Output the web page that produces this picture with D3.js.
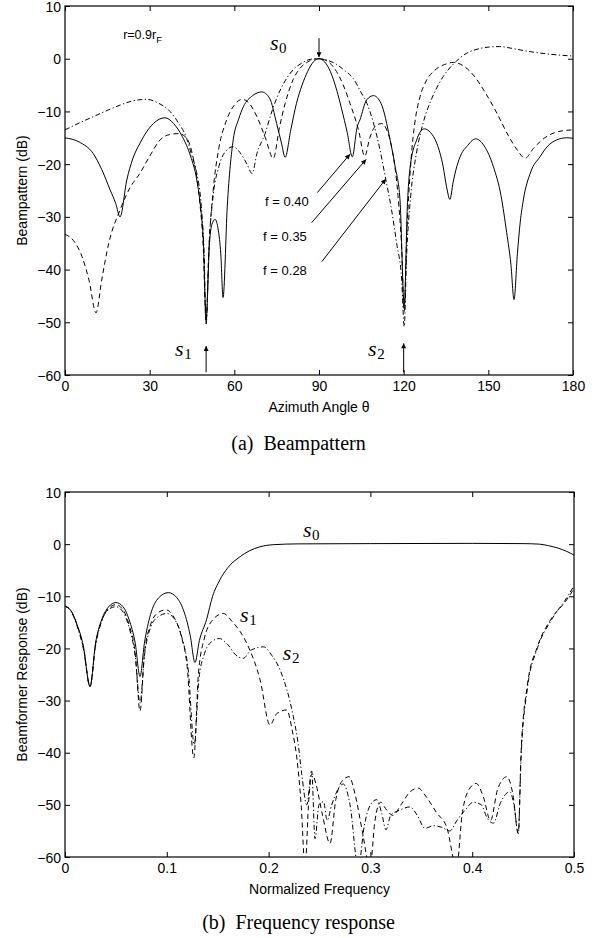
<!DOCTYPE html>
<html><head><meta charset="utf-8">
<script src="https://cdn.jsdelivr.net/npm/d3@7"></script>
<style>body{margin:0;background:#fff}svg{display:block}</style>
</head><body>
<script>
// ---------- DATA ----------
const thetaTicks = [0, 30, 60, 90, 120, 150, 180];
const freqTicks = [0, 0.1, 0.2, 0.3, 0.4, 0.5];
const dbTicks = [10, 0, -10, -20, -30, -40, -50, -60];

// (a) Beampattern [theta (deg), dB]
const beamF040 = [[0,-15],[5,-15.8],[10,-18],[13,-21],[16,-24.9],[18,-27.5],[19.5,-30],[21.9,-23],[24,-19],[26.6,-16],[29,-13.8],[31.3,-12.3],[35.4,-11.2],[38.5,-12.3],[41.6,-14.8],[44.5,-18.5],[46.7,-23],[48.2,-29],[49,-34.4],[50,-49.5],[51.2,-35],[52,-31.5],[53.2,-30.5],[54.3,-32.5],[55.2,-37],[56,-45.3],[57.5,-28],[59.6,-15.4],[61.5,-11.5],[63.2,-9.1],[66.5,-7],[69.7,-6.3],[72.5,-7.5],[75,-12.3],[76.7,-16],[78,-18.7],[80,-13.5],[82,-8.5],[84,-5],[86,-2.4],[88,-0.6],[90,0],[92,-0.6],[94,-2.4],[96.3,-6],[98,-9.5],[100,-14],[101.8,-18.6],[103.5,-13],[104.5,-11.6],[106.9,-7.8],[109.3,-7],[112,-8.5],[115.2,-15.4],[117,-20.5],[118.7,-26.8],[120.2,-47],[121.3,-28],[122.3,-20.5],[124.6,-15.4],[127.3,-13.3],[129.5,-14],[131.7,-16],[134,-20.5],[135.2,-24.3],[136.4,-26.7],[137.5,-23.5],[138.8,-20.5],[140.5,-18],[142.3,-16.7],[145.5,-15.2],[148.5,-16.5],[151.8,-20.5],[154.5,-26],[156.5,-33],[158,-39],[159.1,-45.7],[160.3,-37],[161.3,-31],[162.4,-26.8],[165,-21.5],[168.3,-18.6],[171,-16.6],[174.2,-15.4],[177.8,-15],[180,-15.1]];
const beamF035 = [[0,-33.3],[3,-34.5],[6,-37.5],[8.5,-42],[11,-48.2],[13,-42],[15.5,-35],[19.5,-28.7],[23,-24.5],[26.6,-21.7],[30,-18.5],[33.7,-15.4],[37,-14.4],[40.2,-14.2],[43,-15],[45.5,-19],[47.5,-26],[49,-36],[50,-50],[51,-36],[52.5,-25],[54.5,-17],[57,-12],[60,-8.8],[62.8,-7.7],[65,-8.3],[68,-11],[71,-15],[73.8,-18.9],[76,-13],[78,-8.5],[80.8,-4],[83,-2],[86,-0.6],[88,-0.1],[90,0],[92,-0.2],[95,-1.5],[98.6,-5],[101,-8.5],[104,-13.5],[106.2,-18.5],[108,-15],[110,-12.8],[112.2,-12.3],[114,-13.5],[116,-17.5],[118,-26],[119.3,-36],[120.2,-48],[121,-35],[122.5,-20],[124,-12],[125.8,-7.2],[128,-4.2],[131,-2.2],[134.5,-1.1],[137.6,-0.7],[141,-1.3],[145,-3.3],[149,-6.5],[153,-10.3],[157,-14.5],[160.5,-17.5],[163,-18.9],[166,-17],[170,-15],[175,-13.8],[180,-13.5]];
const beamF028 = [[0,-13.5],[5,-12.2],[10,-11],[15,-9.8],[19.5,-8.8],[24,-8],[28.9,-7.7],[33,-8.4],[37.2,-10],[40,-12],[43.1,-15.1],[45,-18.5],[46.7,-21.7],[48.3,-28],[49.3,-37],[50,-50.5],[51,-36],[52.5,-26],[54.5,-20.5],[57,-17.5],[59.6,-16.7],[62,-17.8],[64.5,-20],[66.3,-21.8],[68,-18],[70.9,-14.2],[73,-10.5],[75,-7.5],[78,-4.2],[81,-2],[84,-0.8],[87,-0.1],[90,0],[93,-0.3],[96,-1],[99,-2.2],[102.2,-3.8],[105,-6.5],[107,-8.5],[109.3,-12.2],[111.5,-17],[113.7,-23],[115.5,-28],[117.5,-35],[119.3,-42],[120.2,-50.8],[121,-38],[122.5,-26],[124.5,-18],[127,-12],[130,-7.5],[134,-3.4],[138,-0.8],[142.2,1],[146,1.8],[150,2.2],[154,2.3],[158,2],[163,1.5],[169.4,1],[175,0.7],[180,0.5]];

// (b) Frequency response [normalized frequency, dB]
const respS0 = [[0,-11.9],[0.006,-12.8],[0.012,-15.5],[0.018,-19.5],[0.0246,-27.3],[0.03,-19],[0.036,-14.5],[0.043,-12],[0.05,-11.2],[0.057,-12],[0.063,-14.5],[0.069,-19],[0.0737,-25.4],[0.078,-19],[0.084,-13.5],[0.092,-10.3],[0.1015,-9.3],[0.11,-10.3],[0.117,-13],[0.123,-17.5],[0.1277,-22.7],[0.132,-18.5],[0.139,-14.5],[0.145,-10],[0.152,-6.9],[0.16,-4.5],[0.172,-2.4],[0.181,-1.3],[0.1916,-0.5],[0.205,-0.1],[0.229,0.05],[0.3,0.1],[0.4,0.15],[0.45,0.1],[0.466,0],[0.475,-0.3],[0.485,-0.8],[0.493,-1.4],[0.5,-2.1]];
const respS1 = [[0,-11.9],[0.006,-12.8],[0.012,-15.6],[0.018,-19.7],[0.0246,-27.3],[0.03,-19.2],[0.036,-14.7],[0.043,-12.3],[0.05,-11.6],[0.057,-12.6],[0.063,-15.5],[0.069,-21],[0.0737,-32],[0.078,-21],[0.084,-15.5],[0.091,-13.2],[0.099,-12.6],[0.107,-14],[0.114,-17.5],[0.12,-23.5],[0.1265,-41],[0.131,-25],[0.137,-18],[0.144,-14.8],[0.1555,-13.3],[0.164,-14.8],[0.1785,-19],[0.1916,-26],[0.2014,-34.7],[0.208,-32.5],[0.2177,-31.8],[0.2235,-36],[0.2276,-40.8],[0.232,-50],[0.2358,-62],[0.2395,-49],[0.2426,-44],[0.2465,-46],[0.253,-52],[0.2603,-57.4],[0.266,-49],[0.272,-45.5],[0.279,-44.6],[0.285,-48],[0.292,-55],[0.2996,-62],[0.3045,-53],[0.31,-49.5],[0.316,-51],[0.322,-52],[0.33,-50],[0.339,-47.5],[0.347,-46.8],[0.355,-48.5],[0.365,-51.5],[0.375,-54.3],[0.3847,-62],[0.39,-52],[0.397,-47],[0.404,-45.9],[0.411,-48.5],[0.418,-53],[0.425,-47],[0.434,-44.6],[0.44,-48],[0.4453,-55.5],[0.448,-40],[0.454,-27.3],[0.464,-19.7],[0.477,-14.5],[0.4928,-10.7],[0.5,-8.5]];
const respS2 = [[0,-11.9],[0.006,-12.9],[0.012,-15.8],[0.018,-20],[0.0246,-27.3],[0.03,-19.5],[0.036,-14.8],[0.043,-12.5],[0.05,-12],[0.057,-13],[0.063,-16],[0.069,-21.5],[0.0737,-30.5],[0.078,-21.5],[0.084,-16],[0.091,-14],[0.1,-13.3],[0.108,-14.5],[0.115,-18],[0.121,-24],[0.127,-38.5],[0.1315,-26],[0.137,-21],[0.1435,-18.8],[0.1516,-18.1],[0.16,-19.3],[0.168,-21.3],[0.175,-21.9],[0.183,-20.3],[0.195,-19.7],[0.203,-21.3],[0.2112,-24.1],[0.2243,-33.1],[0.229,-38.2],[0.2325,-44],[0.2375,-50],[0.2423,-43.5],[0.2456,-56.5],[0.2495,-50],[0.254,-49.4],[0.2575,-53],[0.262,-50],[0.2734,-46],[0.28,-50],[0.2881,-62],[0.294,-54],[0.3,-50],[0.3062,-49],[0.311,-51.5],[0.3153,-54.8],[0.32,-52],[0.329,-51],[0.3389,-50.4],[0.346,-52],[0.3536,-54.5],[0.362,-54],[0.37,-54.3],[0.378,-55],[0.385,-53],[0.393,-51],[0.401,-49.5],[0.409,-50],[0.4146,-52.5],[0.4208,-53.5],[0.428,-49.5],[0.437,-47.5],[0.441,-50],[0.4453,-55.5],[0.448,-41],[0.454,-28],[0.464,-20],[0.477,-14.8],[0.4928,-10.3],[0.5,-8]];

// annotations (data coordinates)
const beamArrows = [[90,3.9,90,0.3],[50,-59.5,50,-54.5],[120,-59.5,120,-54],[89.4,-25.4,101,-18.1],[87.4,-31.1,106.7,-19.1],[91,-38.5,113.7,-22.8]];
const beamFLabels = [["f = 0.40",70.9,-27.95],["f = 0.35",70.2,-34.6],["f = 0.28",70.2,-41]];
const beamSLabels = [["s","0",72.6,1.65],["s","1",39,-56.4],["s","2",107.4,-56.4]];
const respSLabels = [["s","0",0.2338,1.37],["s","1",0.172,-14.9],["s","2",0.214,-22.2]];

// ---------- DRAW ----------
const SANS = "'Liberation Sans', Arial, Helvetica, sans-serif";
const SERIF = "'Liberation Serif', 'Times New Roman', serif";
const svg = d3.select("body").append("svg").attr("width", 597).attr("height", 938);
const defs = svg.append("defs");
defs.append("marker").attr("id","ah").attr("viewBox","0 0 10 10").attr("refX",10).attr("refY",5)
  .attr("markerWidth",7).attr("markerHeight",5).attr("markerUnits","userSpaceOnUse").attr("orient","auto")
  .append("path").attr("d","M0,0L10,5L0,10Z").attr("fill","#000");

const STY = {solid:null, dashed:"5,3.5", dashdot:"5,2.5,1.2,2.5"};
const fmtNum = d => d < 0 ? "\u2212" + Math.abs(d) : String(+d.toFixed(2));
const FS = 14;

function panel(id, L, T, w, h, xDom, xTicks, series, ylabel, xlabel, caption, capY) {
  const g = svg.append("g").attr("transform", `translate(${L},${T})`);
  const x = d3.scaleLinear().domain(xDom).range([0, w]);
  const y = d3.scaleLinear().domain([-60, 10]).range([h, 0]);
  defs.append("clipPath").attr("id", "clip" + id).append("rect").attr("width", w).attr("height", h);

  const axes = [
    [d3.axisBottom(x).tickValues(xTicks).tickFormat(fmtNum).tickPadding(6), `translate(0,${h})`, null],
    [d3.axisTop(x).tickValues(xTicks).tickFormat(""), null, null],
    [d3.axisLeft(y).tickValues(dbTicks).tickFormat(fmtNum).tickPadding(4), null, "0.36em"],
    [d3.axisRight(y).tickValues(dbTicks).tickFormat(""), `translate(${w},0)`, null]
  ];
  axes.forEach(([ax, tr, dy]) => {
    const a = g.append("g").call(ax.tickSizeInner(-5).tickSizeOuter(0));
    if (tr) a.attr("transform", tr);
    a.select(".domain").remove();
    a.selectAll("line").attr("stroke", "#000").attr("stroke-width", 1);
    const tx = a.selectAll("text").attr("font-family", SANS).attr("font-size", FS).attr("fill", "#000");
    if (dy) tx.attr("dy", dy);
  });

  const line = d3.line().x(d => x(d[0])).y(d => y(d[1])).curve(d3.curveMonotoneX);
  const cg = g.append("g").attr("clip-path", `url(#clip${id})`);
  series.forEach(s => {
    cg.append("path").datum(s.data).attr("d", line).attr("fill", "none")
      .attr("stroke", "#000").attr("stroke-width", 1)
      .attr("stroke-dasharray", STY[s.style]);
  });
  g.append("rect").attr("width", w).attr("height", h).attr("fill", "none").attr("stroke", "#000").attr("stroke-width", 1.2);

  g.append("text").attr("transform", `translate(${27 - L},${h / 2}) rotate(-90)`)
    .attr("text-anchor", "middle").attr("font-family", SANS).attr("font-size", FS).text(ylabel);
  g.append("text").attr("x", w / 2).attr("y", h + 37).attr("text-anchor", "middle")
    .attr("font-family", SANS).attr("font-size", FS).text(xlabel);
  svg.append("text").attr("x", 298.5).attr("y", capY).attr("text-anchor", "middle")
    .attr("font-family", SERIF).attr("font-size", 20).attr("xml:space", "preserve").text(caption);
  return {g, x, y};
}

function sLabel(p, lab) {
  const t = p.g.append("text").attr("x", p.x(lab[2])).attr("y", p.y(lab[3]))
    .attr("font-family", SERIF).attr("fill", "#000");
  t.append("tspan").attr("font-style", "italic").attr("font-size", 22).text(lab[0]);
  t.append("tspan").attr("font-size", 15).attr("dy", 3).attr("dx", 0.5).text(lab[1]);
}

// (a)
const pa = panel("a", 65, 6, 508, 369, [0, 180], thetaTicks,
  [{data: beamF040, style: "solid"}, {data: beamF035, style: "dashed"}, {data: beamF028, style: "dashdot"}],
  "Beampattern (dB)", "Azimuth Angle \u03b8", "(a)  Beampattern", 450);
beamArrows.forEach(a => {
  pa.g.append("line").attr("x1", pa.x(a[0])).attr("y1", pa.y(a[1])).attr("x2", pa.x(a[2])).attr("y2", pa.y(a[3]))
    .attr("stroke", "#000").attr("stroke-width", 1).attr("marker-end", "url(#ah)");
});
beamFLabels.forEach(l => {
  pa.g.append("text").attr("x", pa.x(l[1])).attr("y", pa.y(l[2])).attr("font-family", SANS)
    .attr("font-size", 13).text(l[0]);
});
beamSLabels.forEach(l => sLabel(pa, l));
{
  const t = pa.g.append("text").attr("x", pa.x(20.6)).attr("y", pa.y(3.7)).attr("font-family", SANS).attr("font-size", 12.5);
  t.append("tspan").text("r=0.9r");
  t.append("tspan").attr("font-size", 9.5).attr("dy", 3.5).text("F");
}

// (b)
const pb = panel("b", 65, 492, 509, 365, [0, 0.5], freqTicks,
  [{data: respS0, style: "solid"}, {data: respS1, style: "dashed"}, {data: respS2, style: "dashdot"}],
  "Beamformer Response (dB)", "Normalized Frequency", "(b)  Frequency response", 929);
respSLabels.forEach(l => sLabel(pb, l));
</script>
</body></html>
